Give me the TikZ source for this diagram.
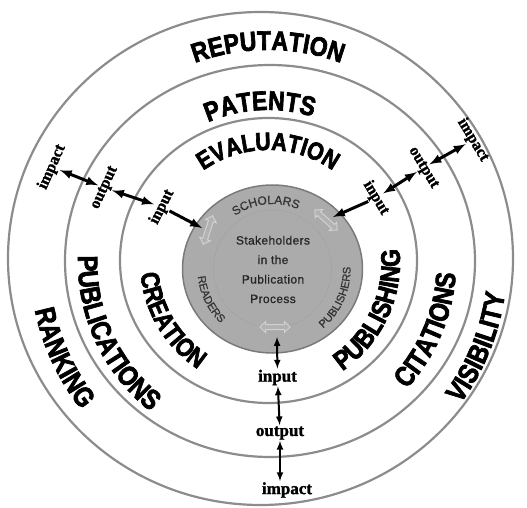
\documentclass[tikz,border=0pt]{standalone}
\usepackage{fontspec}
\setmainfont{Liberation Serif}
\setsansfont{Liberation Sans}
\newfontfamily\ringfont[FakeStretch=0.85,FakeBold=2.5]{Liberation Sans Bold}
\newfontfamily\grayfont[FakeBold=0.8,LetterSpace=3]{Liberation Sans}
\newfontfamily\flowfont[FakeBold=1.5]{Liberation Serif Bold}
\usetikzlibrary{ arrows, decorations.text, shapes.arrows }

\newcommand{\bigring}[1]{\ringfont\fontsize{#1}{#1}\selectfont}
\newcommand{\smallring}[1]{\grayfont\fontsize{#1}{#1}\selectfont\color{black!80}}
% [centre]{font}{radius}{start angle}{end angle}{text}
\newcommand{\arclabel}[6][O]{%
  \path[decorate, decoration={text along path, text align=center, text={|#2|#6}}]
    (#1) ++(#4:#3) arc[start angle=#4, end angle=#5, radius=#3];}

\begin{document}
\begin{tikzpicture}[x=1pt, y=1pt,
    ring/.style={draw=black!45, line width=2.2pt},
    conn/.style={line width=3pt, >=latex},
    flowlabel/.style={font=\flowfont\fontsize{16}{16}\selectfont, inner sep=1pt},
    swap/.style={shape=double arrow, draw=black!18, fill=black!30, line width=1pt,
      inner sep=2pt, minimum height=30pt, double arrow head extend=3pt}]
    \useasboundingbox (0,0) rectangle (527,507);
    \coordinate (O) at (268,245);
    \coordinate (G) at (272.5,238);

    % rings
    \draw[ring] (260.5,248.5) ellipse [x radius=252.5, y radius=246.5];
    \draw[ring] (270,246) ellipse [x radius=205, y radius=196];
    \draw[ring] (268.5,246.5) ellipse [x radius=148.5, y radius=142.5];

    % stakeholders disc
    \draw[draw=black!52, line width=1.5pt, fill=black!33] (G) ellipse [x radius=90, y radius=84];
    \draw[black!45, densely dotted] (G) circle [radius=59];
    \node[align=center, font=\grayfont\fontsize{12}{19.5}\selectfont, text=black!85] (hub) at (273,237.5)
        {Stakeholders\\in the\\Publication\\Process};

    \node[swap, rotate=72] (swapL) at (208,277) {};
    \node[swap, rotate=-42] (swapR) at (326,287) {};
    \node[swap] (swapB) at (275,180) {};

    \arclabel[G]{\smallring{12}}{65}{166}{26}{SCHOLARS}
    \arclabel[G]{\smallring{11}}{75}{146}{266}{READERS}
    \arclabel[G]{\smallring{11}}{78}{-84}{36}{PUBLISHERS}

    % ring labels
    \arclabel{\bigring{27}}{212}{160}{20}{REPUTATION}
    \arclabel{\bigring{27}}{152}{163}{23}{PATENTS}
    \arclabel{\bigring{25}}{112}{160}{20}{EVALUATION}
    \arclabel{\bigring{26}}{128}{151}{271}{CREATION}
    \arclabel{\bigring{27}}{132}{-85}{35}{PUBLISHING}
    \arclabel{\bigring{28}}{190}{145}{265}{PUBLICATIONS}
    \arclabel{\bigring{28}}{188}{-83}{37}{CITATIONS}
    \arclabel{\bigring{28}}{238}{145}{265}{RANKING}
    \arclabel{\bigring{28}}{239}{-82}{38}{VISIBILITY}

    % input / output / impact
    \node[flowlabel, rotate=63] (inL) at (162,300) {input};
    \node[flowlabel, rotate=65] (outL) at (105,319) {output};
    \node[flowlabel, rotate=66] (impL) at (52,340) {impact};
    \node[flowlabel, rotate=-59] (inR) at (376,309) {input};
    \node[flowlabel, rotate=-59] (outR) at (423,339) {output};
    \node[flowlabel, rotate=-59] (impR) at (473,367) {impact};
    \node[flowlabel, font=\flowfont\fontsize{17}{17}\selectfont] (inB) at (277.5,129.5) {input};
    \node[flowlabel, font=\flowfont\fontsize{17}{17}\selectfont] (outB) at (280,74) {output};
    \node[flowlabel, font=\flowfont\fontsize{17}{17}\selectfont] (impB) at (287,17) {impact};

    \coordinate (gL) at (202,279);
    \coordinate (gR) at (333,290);
    \coordinate (gB) at (277,170);

    \path [conn, ->] (inL) edge (gL);
    \path [conn, <->] (outL) edge (inL);
    \path [conn, <->] (impL) edge (outL);
    \path [conn, ->] (inR) edge (gR);
    \path [conn, <->] (outR) edge (inR);
    \path [conn, <->] (impR) edge (outR);
    \path [conn, line width=2pt, <->] (gB) edge (inB);
    \path [conn, line width=2pt, <->] (inB) edge (outB);
    \path [conn, line width=2pt, <->] (outB.south) edge (outB.south |- impB.north);
\end{tikzpicture}
\end{document}
